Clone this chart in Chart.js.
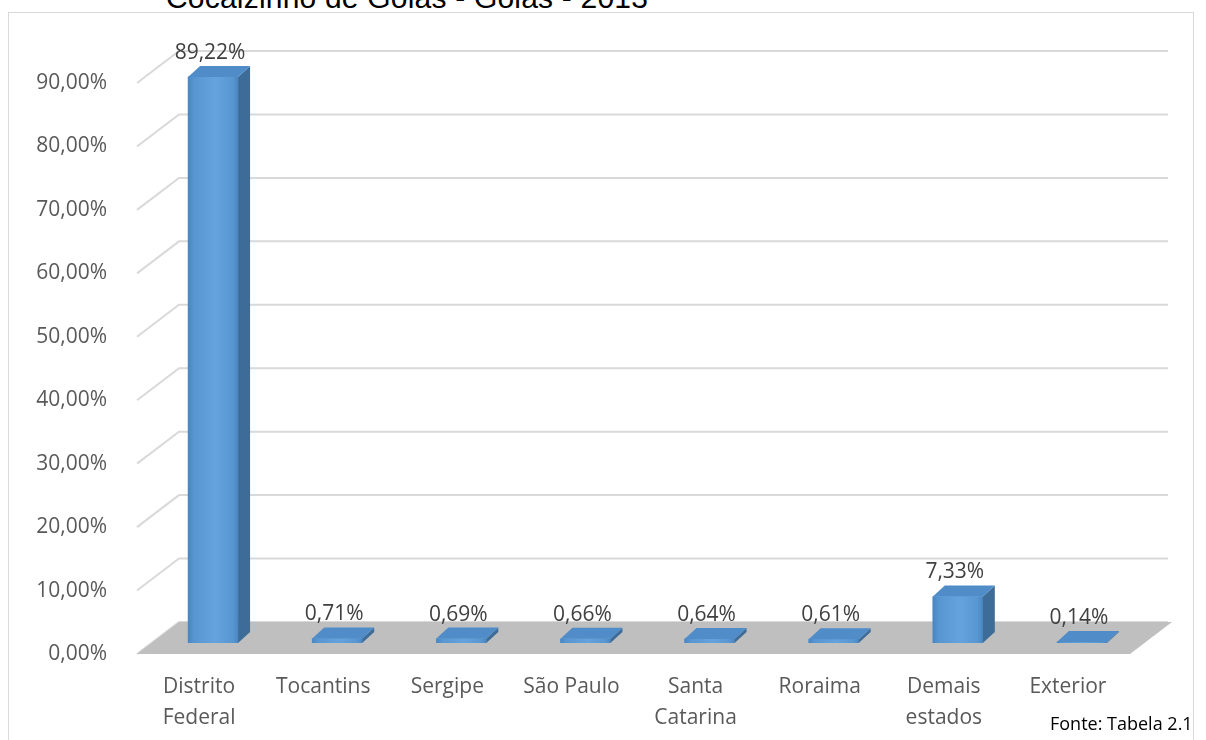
<!DOCTYPE html>
<html>
<head>
<meta charset="utf-8">
<script src="https://cdn.jsdelivr.net/npm/chart.js@4/dist/chart.umd.min.js"></script>
<style>
  html, body { margin: 0; padding: 0; background: #fff; }
  #wrap { position: relative; width: 1206px; height: 740px; overflow: hidden; }
  #box { position: absolute; left: 8px; top: 12px; width: 1186px; height: 800px; border: 1px solid #d9d9d9; box-sizing: border-box; }
  #title { position: absolute; left: 166px; top: -17px; font: 30px "Liberation Sans", Arial, sans-serif; line-height: 30px; color: #000; white-space: nowrap; letter-spacing: 0.2px; }
  #fonte { position: absolute; left: 1050px; top: 711px; font: 18px "Open Sans", sans-serif; color: #000; white-space: nowrap; }
  canvas { position: absolute; left: 0; top: 0; }
</style>
</head>
<body>
<div id="wrap">
  <div id="box"></div>
  <div id="title">Cocalzinho de Goiás - Goiás - 2013</div>
  <canvas id="chart" width="1206" height="740"></canvas>
  <div id="fonte">Fonte: Tabela 2.1</div>
</div>
<script>
  // ---- dados ----
  const categories = [['Distrito', 'Federal'], 'Tocantins', 'Sergipe', 'São Paulo', ['Santa', 'Catarina'], 'Roraima', ['Demais', 'estados'], 'Exterior'];
  const shares = [89.22, 0.71, 0.69, 0.66, 0.64, 0.61, 7.33, 0.14];
  const yTicks = [0, 10, 20, 30, 40, 50, 60, 70, 80, 90];

  const fmt = (v) => v.toFixed(2).replace('.', ',') + '%';

  // ---- "3D" do Excel: parede do fundo, piso e faces das barras ----
  const WALL = { dx: 42, dy: -32 };
  const BAR_SHIFT = { dx: 14, dy: -11 };
  const BAR_DEPTH = { dx: 12, dy: -11 };

  const fake3d = {
    id: 'fake3d',
    beforeDatasetsDraw(chart) {
      const { ctx, chartArea: a, scales: { y } } = chart;
      ctx.save();
      ctx.strokeStyle = '#d9d9d9';
      ctx.lineWidth = 2;
      yTicks.forEach((v) => {
        const yf = y.getPixelForValue(v);
        ctx.beginPath();
        ctx.moveTo(a.left, yf);
        ctx.lineTo(a.left + WALL.dx, yf + WALL.dy);
        ctx.lineTo(a.right + WALL.dx - 4, yf + WALL.dy);
        ctx.stroke();
      });
      // piso
      const y0 = y.getPixelForValue(0);
      ctx.fillStyle = '#bfbfbf';
      ctx.beginPath();
      ctx.moveTo(a.left, y0);
      ctx.lineTo(a.left + WALL.dx, y0 + WALL.dy);
      ctx.lineTo(a.right + WALL.dx, y0 + WALL.dy);
      ctx.lineTo(a.right, y0);
      ctx.closePath();
      ctx.fill();
      ctx.restore();
    },
    beforeDatasetDraw(chart) {
      chart.ctx.save();
      chart.ctx.translate(BAR_SHIFT.dx, BAR_SHIFT.dy);
    },
    afterDatasetDraw(chart, args) {
      const ctx = chart.ctx;
      args.meta.data.forEach((bar) => {
        const { x, y, base, width } = bar.getProps(['x', 'y', 'base', 'width'], true);
        const l = x - width / 2, r = x + width / 2;
        // face frontal com brilho no centro
        const g = ctx.createLinearGradient(l, 0, r, 0);
        g.addColorStop(0, '#4a85c0');
        g.addColorStop(0.12, '#5896d1');
        g.addColorStop(0.55, '#64a3de');
        g.addColorStop(0.9, '#5896d1');
        g.addColorStop(1, '#4a85c0');
        ctx.fillStyle = g;
        ctx.fillRect(l, y, width, base - y);
        // lateral
        ctx.fillStyle = '#3e6c99';
        ctx.beginPath();
        ctx.moveTo(r, y);
        ctx.lineTo(r + BAR_DEPTH.dx, y + BAR_DEPTH.dy);
        ctx.lineTo(r + BAR_DEPTH.dx, base + BAR_DEPTH.dy);
        ctx.lineTo(r, base);
        ctx.closePath();
        ctx.fill();
        // topo
        ctx.fillStyle = '#4f8cc8';
        ctx.beginPath();
        ctx.moveTo(l, y);
        ctx.lineTo(l + BAR_DEPTH.dx, y + BAR_DEPTH.dy);
        ctx.lineTo(r + BAR_DEPTH.dx, y + BAR_DEPTH.dy);
        ctx.lineTo(r, y);
        ctx.closePath();
        ctx.fill();
      });
      ctx.restore();
    },
    afterDatasetsDraw(chart) {
      const ctx = chart.ctx;
      const meta = chart.getDatasetMeta(0);
      ctx.save();
      ctx.font = '21px "Open Sans", sans-serif';
      ctx.fillStyle = '#404040';
      ctx.textAlign = 'center';
      ctx.textBaseline = 'middle';
      meta.data.forEach((bar, i) => {
        ctx.fillText(fmt(shares[i]), bar.x + 11, bar.y - 35);
      });
      ctx.restore();
    }
  };

  new Chart(document.getElementById('chart'), {
    type: 'bar',
    data: {
      labels: categories,
      datasets: [{
        data: shares,
        backgroundColor: '#5b9bd5',
        borderWidth: 0,
        barThickness: 50,
      }],
    },
    options: {
      responsive: false,
      animation: false,
      devicePixelRatio: 1,
      layout: { padding: { top: 83, right: 76, left: 0, bottom: 0 } },
      plugins: {
        legend: { display: false },
        tooltip: { enabled: false },
      },
      scales: {
        x: {
          grid: { display: false },
          border: { display: false },
          ticks: {
            color: '#595959',
            font: { family: 'Open Sans', size: 21, lineHeight: 1.45 },
            padding: 10,
            maxRotation: 0,
            autoSkip: false,
          },
          afterFit: (s) => { s.height = 86; },
        },
        y: {
          min: 0,
          max: 90,
          grid: { display: false },
          border: { display: false },
          ticks: {
            stepSize: 10,
            color: '#595959',
            font: { family: 'Open Sans', size: 21 },
            padding: 22,
            callback: (v) => fmt(v),
          },
          afterFit: (s) => { s.width = 137; },
        },
      },
    },
    plugins: [fake3d],
  });
</script>
</body>
</html>
